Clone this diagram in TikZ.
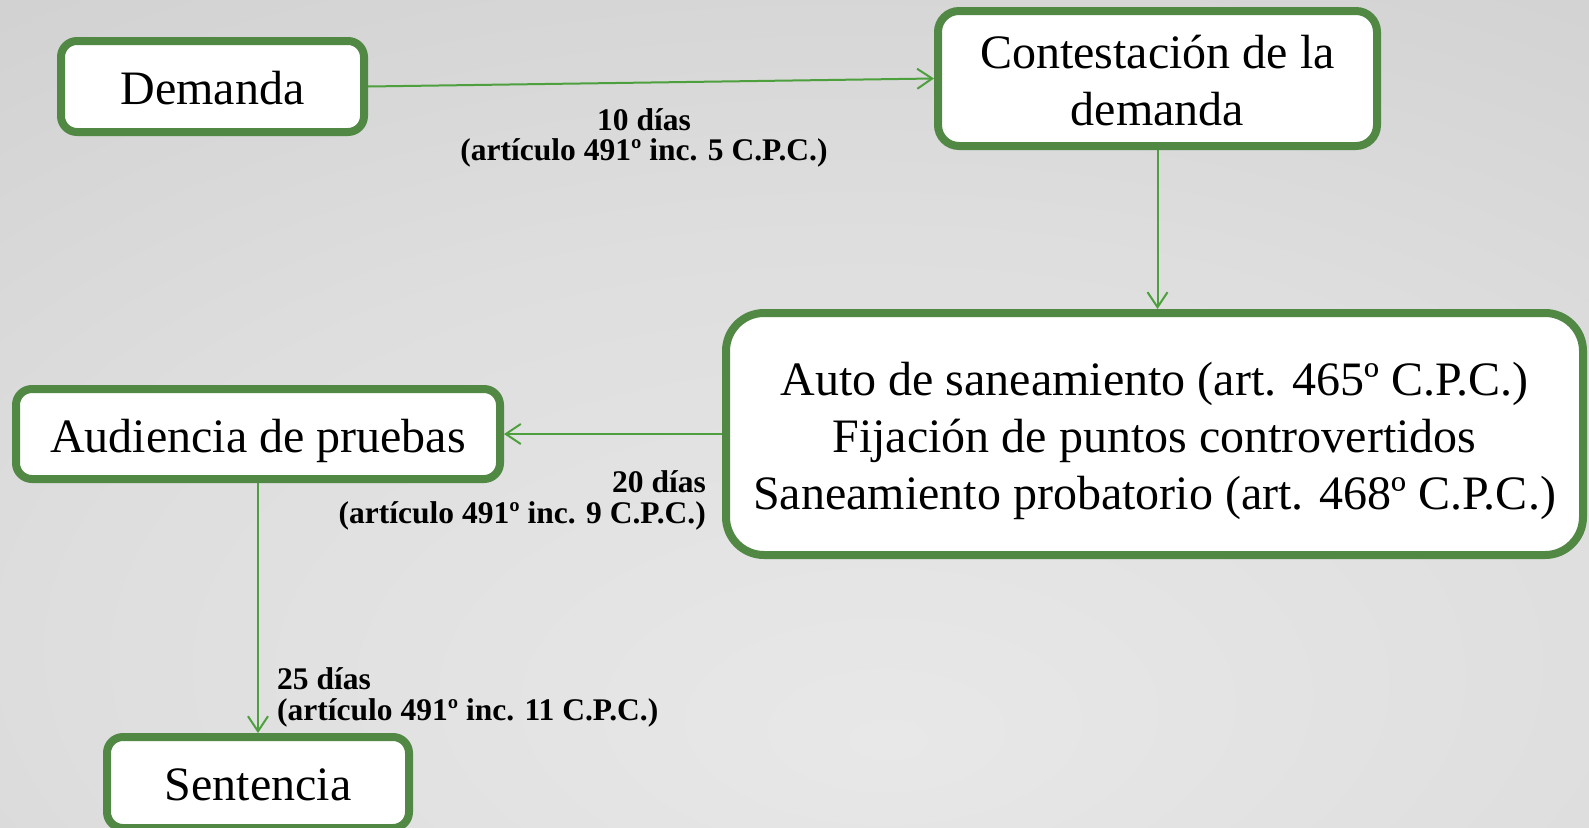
\documentclass[tikz,border=0pt]{standalone}
\usepackage{fontspec}
\setmainfont{Liberation Serif}
\usetikzlibrary{arrows.meta}
\definecolor{bordergreen}{HTML}{508844}
\definecolor{arrowgreen}{HTML}{4DA03D}
\definecolor{bgin}{HTML}{E8E8E8}
\definecolor{bgmid}{HTML}{DEDEDE}
\definecolor{bgout}{HTML}{B4B4B4}
\pgfdeclareradialshading{bgshade}{\pgfpoint{3bp}{-20bp}}{color(0bp)=(bgin); color(25bp)=(bgmid); color(90bp)=(bgout)}
\newcommand{\mytopstrut}{\rule{0pt}{48pt}}
\newcommand{\mybotstrut}{\rule[-12pt]{0pt}{12pt}}
\begin{document}
\begin{tikzpicture}[x=1pt,y=-1pt,
  box/.style={draw=bordergreen, line width=8pt, fill=white, align=center,
    font=\fontsize{48}{57}\selectfont, inner sep=0pt},
  lab/.style={font=\fontsize{31.5}{31}\selectfont\bfseries, inner sep=0pt},
  conn/.style={draw=arrowgreen, line width=2pt, -{Straight Barb[length=15pt,width=20pt]}}]
\clip (0,0) rectangle (1589,827);
\shade[shading=bgshade] (0,0) rectangle (1589,827);
\useasboundingbox (0,0) rectangle (1589,827);

\node[box, minimum width=303pt, minimum height=91pt, rounded corners=16pt] (dem) at (212.5,86.5) {\mytopstrut Demanda\mybotstrut};
\node[box, minimum width=439pt, minimum height=135pt, rounded corners=21pt] (con) at (1157.5,78.5) {\mytopstrut Contestación de la\\demanda\mybotstrut};
\node[box, minimum width=857pt, minimum height=242pt, rounded corners=38pt] (aut) at (1154.5,434) {\mytopstrut Auto de saneamiento (art. 465º C.P.C.)\\Fijación de puntos controvertidos\\Saneamiento probatorio (art. 468º C.P.C.)\mybotstrut};
\node[box, minimum width=484pt, minimum height=90pt, rounded corners=16pt] (aud) at (258,434) {\mytopstrut Audiencia de pruebas\mybotstrut};
\node[box, minimum width=302pt, minimum height=91pt, rounded corners=16pt] (sen) at (258,782.5) {\mytopstrut Sentencia\mybotstrut};

\draw[conn] (dem.east) -- (con.west);
\draw[conn] (con.south) -- (con.south |- aut.north);
\draw[conn] (aut.west) -- (aud.east);
\draw[conn] (aud.south) -- (sen.north);

\node[lab, anchor=base] (l1a) at (644,130) {10 días};
\node[lab, anchor=base] (l1b) at (644,160) {(artículo 491º inc. 5 C.P.C.)};
\node[lab, anchor=base east] (l2a) at (706,492) {20 días};
\node[lab, anchor=base east] (l2b) at (706,523) {(artículo 491º inc. 9 C.P.C.)};
\node[lab, anchor=base west] (l3a) at (277,689) {25 días};
\node[lab, anchor=base west] (l3b) at (277,720) {(artículo 491º inc. 11 C.P.C.)};
\end{tikzpicture}
\end{document}
